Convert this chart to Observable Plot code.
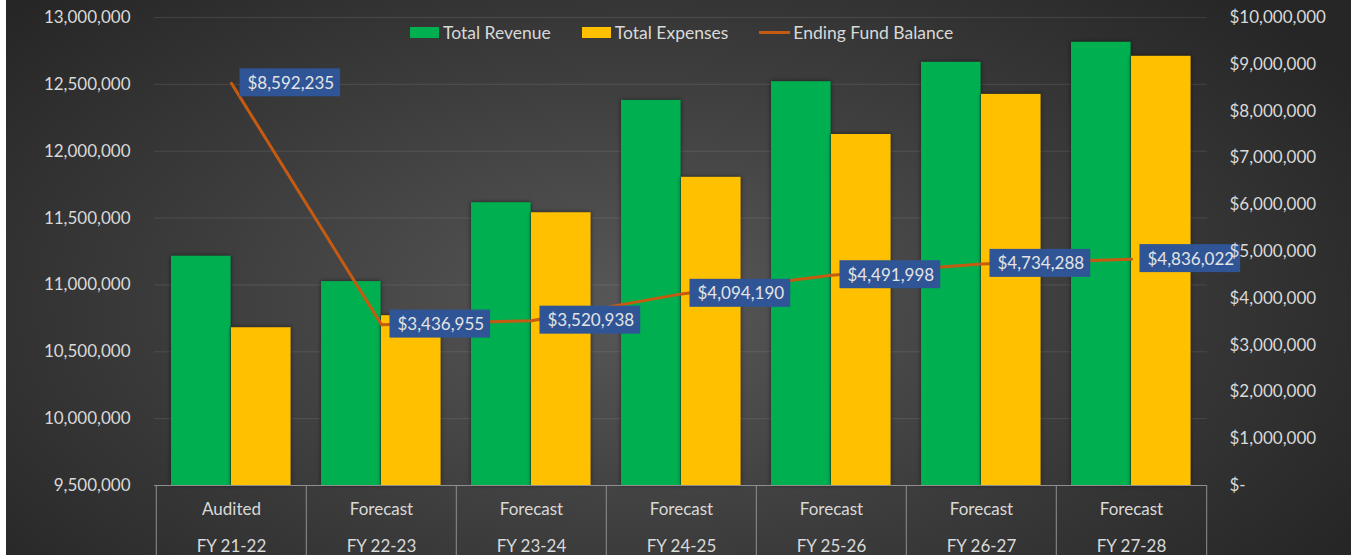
<!DOCTYPE html>
<html><head><meta charset="utf-8">
<script src="https://cdn.jsdelivr.net/npm/d3@7"></script>
<script src="https://cdn.jsdelivr.net/npm/@observablehq/plot@0.6"></script>
<style>
body{margin:0;background:#fff;}
#wrap{position:relative;margin-left:6px;width:1345px;height:555px;overflow:hidden;
  background: radial-gradient(ellipse 62% 80% at 47% 55%, #585858 0%, #3c3c3c 55%, #262626 100%);
  font-family:Lato, sans-serif;}
#legend{position:absolute;top:23px;left:404px;display:flex;align-items:center;color:#d9d9d9;font-size:17.5px;font-family:Lato,sans-serif;height:18px;}
#legend .it{display:flex;align-items:center;margin-right:31px;}
#legend .sw{width:29px;height:11px;margin-right:4px;}
#legend .ln{width:31px;height:3px;margin-right:3px;}
.bars rect{filter: drop-shadow(0px 0px 2px rgba(0,0,0,0.55));}
</style>
</head><body>
<div id="wrap"><div id="legend"></div></div>
<script>
const categories = ["FY 21-22","FY 22-23","FY 23-24","FY 24-25","FY 25-26","FY 26-27","FY 27-28"];
const stages = ["Audited","Forecast","Forecast","Forecast","Forecast","Forecast","Forecast"];
const revenue = [11215000, 11025000, 11615000, 12380000, 12520000, 12665000, 12815000];
const expenses = [10680000, 10770000, 11540000, 11805000, 12125000, 12425000, 12710000];
const balance = [8592235, 3436955, 3520938, 4094190, 4491998, 4734288, 4836022];
const leftTicks = [9500000,10000000,10500000,11000000,11500000,12000000,12500000,13000000];
const rightTicks = [0,1000000,2000000,3000000,4000000,5000000,6000000,7000000,8000000,9000000,10000000];
const rightTickLabels = ["$-","$1,000,000","$2,000,000","$3,000,000","$4,000,000","$5,000,000","$6,000,000","$7,000,000","$8,000,000","$9,000,000","$10,000,000"];
const seriesNames = ["Total Revenue","Total Expenses","Ending Fund Balance"];
const colors = {rev:"#00B050", exp:"#FFC000", bal:"#C55A11", box:"#2F5597"};

const yMin = leftTicks[0], yMax = leftTicks[leftTicks.length-1];
const rMax = rightTicks[rightTicks.length-1];
const toLeft = v => yMin + v / rMax * (yMax - yMin);

const rows = categories.map((c,i) => ({cat:c, stage:stages[i], revenue:revenue[i], expenses:expenses[i], balance:balance[i]}));
const txt = "#d9d9d9";
const fs = 17;
const fmtMoney = d3.format("$,");

const plot = Plot.plot({
  width:1345, height:555,
  marginLeft:148, marginRight:144, marginTop:17, marginBottom:70,
  style:{background:"transparent", fontFamily:"Lato, sans-serif", fontSize:fs+"px", color:txt},
  x:{domain:categories, padding:0, axis:null},
  y:{domain:[yMin,yMax], axis:null},
  marks:[
    Plot.ruleY(leftTicks.slice(1), {stroke:"#ffffff", strokeOpacity:0.1}),
    Plot.axisY(leftTicks, {anchor:"left", tickSize:0, tickPadding:24, tickFormat:d3.format(","), label:null, fill:txt, fontSize:fs}),
    Plot.barY(rows, {x:"cat", y1:() => yMin, y2:"revenue", fill:colors.rev, insetLeft:15, insetRight:75.4, className:"bars"}),
    Plot.barY(rows, {x:"cat", y1:() => yMin, y2:"expenses", fill:colors.exp, insetLeft:75, insetRight:15.4, className:"bars"}),
    Plot.ruleY([yMin], {stroke:"#8f8f8f", strokeWidth:1}),
    Plot.ruleX(categories, {x:d=>d, dx:-75.2, insetTop:468, insetBottom:-70, stroke:"#8f8f8f"}),
    Plot.ruleX([categories[categories.length-1]], {x:d=>d, dx:75.2, insetTop:468, insetBottom:-70, stroke:"#8f8f8f"}),
    Plot.text(rows, {x:"cat", text:"stage", frameAnchor:"bottom", dy:29, fill:txt, fontSize:fs}),
    Plot.text(rows, {x:"cat", text:"cat", frameAnchor:"bottom", dy:66, fill:txt, fontSize:fs}),
    Plot.line(rows, {x:"cat", y:d => toLeft(d.balance), stroke:colors.bal, strokeWidth:3}),
    Plot.text(rows, {x:"cat", y:d => toLeft(d.balance), text:d => fmtMoney(d.balance), dx:16, textAnchor:"start", fill:"#e4e4e4", fontSize:fs, className:"fundlabels"}),
    Plot.axisY(rightTicks.map(toLeft), {anchor:"right", tickSize:0, tickPadding:22, tickFormat:(d,i) => rightTickLabels[i], label:null, fill:txt, fontSize:fs, textAnchor:"start"})
  ]
});
const wrap = document.getElementById("wrap");
wrap.appendChild(plot);

// label boxes behind the fund balance labels
let labelTexts = Array.from(plot.querySelectorAll('.fundlabels text'));
if (!labelTexts.length) {
  labelTexts = Array.from(plot.querySelectorAll('g[aria-label="text"] text')).filter(t => t.textContent.startsWith("$"));
}
labelTexts.forEach(t => {
  const b = t.getBBox();
  const r = document.createElementNS("http://www.w3.org/2000/svg","rect");
  r.setAttribute("x", b.x - 8);
  r.setAttribute("width", b.width + 14);
  r.setAttribute("y", b.y + b.height/2 - 14);
  r.setAttribute("height", 28);
  r.setAttribute("fill", colors.box);
  r.setAttribute("stroke", "none");
  if (t.getAttribute("transform")) r.setAttribute("transform", t.getAttribute("transform"));
  t.parentNode.insertBefore(r, t);
});

// legend
const legend = document.getElementById("legend");
const items = [
  {name:seriesNames[0], color:colors.rev, kind:"sw"},
  {name:seriesNames[1], color:colors.exp, kind:"sw"},
  {name:seriesNames[2], color:colors.bal, kind:"ln"}
];
items.forEach(it => {
  const d = document.createElement("div"); d.className = "it";
  const s = document.createElement("span"); s.className = it.kind; s.style.background = it.color;
  const l = document.createElement("span"); l.textContent = it.name;
  d.appendChild(s); d.appendChild(l); legend.appendChild(d);
});
</script>
</body></html>
